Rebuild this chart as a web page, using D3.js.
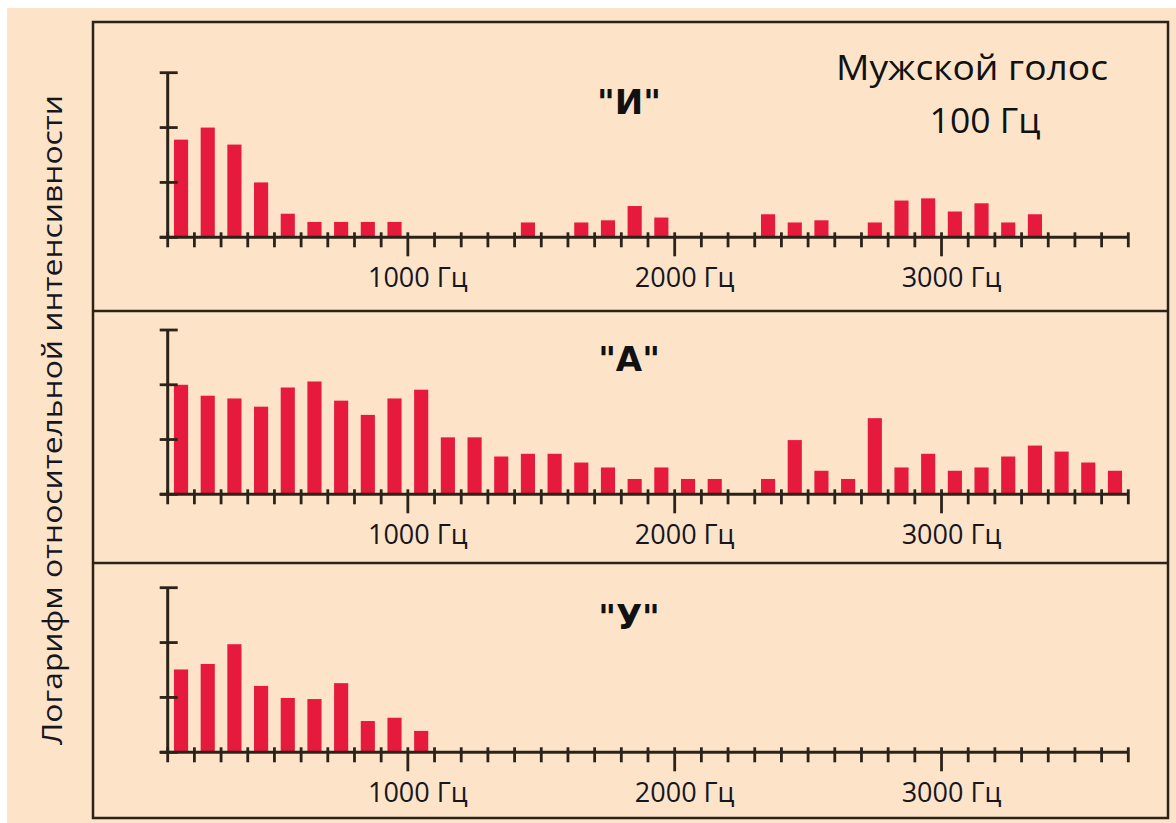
<!DOCTYPE html>
<html>
<head>
<meta charset="utf-8">
<script src="https://cdn.jsdelivr.net/npm/d3@7"></script>
<style>
  html, body { margin: 0; padding: 0; background: #ffffff; }
  svg { display: block; }
</style>
</head>
<body>
<svg id="chart" width="1176" height="823"></svg>
<script>
// ---- data ----
const harmonics = d3.range(1, 37);              // harmonic number, bars drawn between 100 Hz ticks
const freqTicks = d3.range(100, 3800, 100);     // Hz ticks 100 ... 3700
const majorTicks = [1000, 2000, 3000];
const majorLabels = ["1000 Гц", "2000 Гц", "3000 Гц"];
const panelTitles = ["\"И\"", "\"А\"", "\"У\""];
const yTickValues = [0, 1, 2, 3];

const valuesI = [1.78, 2.0, 1.69, 1.0, 0.43, 0.28, 0.28, 0.28, 0.28, 0, 0, 0, 0, 0.27, 0, 0.27, 0.31, 0.57, 0.36, 0, 0, 0, 0.42, 0.27, 0.31, 0, 0.27, 0.67, 0.71, 0.47, 0.62, 0.27, 0.42, 0, 0, 0];
const valuesA = [2.0, 1.80, 1.75, 1.60, 1.95, 2.06, 1.71, 1.45, 1.75, 1.91, 1.04, 1.04, 0.69, 0.74, 0.74, 0.58, 0.49, 0.28, 0.49, 0.28, 0.28, 0, 0.28, 0.99, 0.43, 0.28, 1.39, 0.49, 0.74, 0.43, 0.49, 0.69, 0.89, 0.78, 0.58, 0.43];
const valuesU = [1.51, 1.61, 1.97, 1.21, 0.99, 0.97, 1.26, 0.57, 0.63, 0.39, 0, 0, 0, 0, 0, 0, 0, 0, 0, 0, 0, 0, 0, 0, 0, 0, 0, 0, 0, 0, 0, 0, 0, 0, 0, 0];
const seriesValues = [valuesI, valuesA, valuesU];

const noteLine1 = "Мужской голос";
const noteLine2 = "100 Гц";
const yTitle = "Логарифм относительной интенсивности";

// ---- layout ----
const W = 1176, H = 823;
const svg = d3.select("#chart");
const bg = "#fde4c9";
const ink = "#2b2219";
const barColor = "#e61a3d";

svg.append("rect").attr("x", 0).attr("y", 0).attr("width", W).attr("height", H).attr("fill", "#ffffff");
svg.append("rect").attr("x", 7).attr("y", 8).attr("width", W - 7).attr("height", H - 8).attr("fill", bg);

const box = { left: 93, right: 1168, top: 22, bottom: 818 };
const separators = [311, 563];
const panelGeom = [
  { top: 72.7, base: 237.3 },
  { top: 330, base: 494.3 },
  { top: 587.7, base: 752.3 }
];

const x = d3.scaleLinear().domain([100, 3700]).range([167.7, 1128.3]);
const xb = d3.scaleBand().domain(harmonics).range([x(100), x(3700)]).paddingInner(0.47).paddingOuter(0.235);

panelGeom.forEach((g, pi) => {
  const y = d3.scaleLinear().domain([0, 3]).range([g.base, g.top]);
  const gp = svg.append("g");
  const vals = seriesValues[pi];

  // bars
  gp.selectAll("rect.bar").data(harmonics.filter((h, i) => vals[i] > 0))
    .join("rect")
    .attr("class", "bar")
    .attr("x", h => xb(h))
    .attr("width", xb.bandwidth())
    .attr("y", h => y(vals[h - 1]))
    .attr("height", h => y(0) - y(vals[h - 1]))
    .attr("fill", barColor);

  // x axis line
  gp.append("line")
    .attr("x1", x(100) - 8).attr("x2", x(3700))
    .attr("y1", y(0)).attr("y2", y(0))
    .attr("stroke", ink).attr("stroke-width", 3);

  // x ticks
  gp.selectAll("line.xt").data(freqTicks).join("line")
    .attr("class", "xt")
    .attr("x1", d => x(d)).attr("x2", d => x(d))
    .attr("y1", d => y(0) - 5)
    .attr("y2", d => y(0) + (majorTicks.includes(d) ? 19 : 10))
    .attr("stroke", ink).attr("stroke-width", 2.8);

  // y axis
  gp.append("line")
    .attr("x1", x(100)).attr("x2", x(100))
    .attr("y1", y(3)).attr("y2", y(0))
    .attr("stroke", ink).attr("stroke-width", 3);
  gp.selectAll("line.yt").data(yTickValues).join("line")
    .attr("class", "yt")
    .attr("x1", x(100) - 8).attr("x2", x(100) + 10)
    .attr("y1", d => y(d)).attr("y2", d => y(d))
    .attr("stroke", ink).attr("stroke-width", 2.8);

  // major labels
  gp.selectAll("text.ml").data(majorTicks).join("text")
    .attr("class", "ml")
    .attr("x", d => x(d) + 10)
    .attr("y", y(0) + 49.5)
    .attr("text-anchor", "middle")
    .attr("font-family", "'Open Sans', sans-serif")
    .attr("font-size", 27)
    .attr("fill", "#16161f")
    .text((d, i) => majorLabels[i]);

  // panel title
  gp.append("text")
    .attr("x", 629)
    .attr("y", g.top + 41)
    .attr("text-anchor", "middle")
    .attr("font-family", "'DejaVu Sans', sans-serif")
    .attr("font-weight", "bold")
    .attr("font-size", 34)
    .attr("fill", "#111")
    .text(panelTitles[pi]);
});

// note in top panel
svg.append("text").attr("x", 972).attr("y", 80)
  .attr("text-anchor", "middle")
  .attr("font-family", "'Open Sans', sans-serif").attr("font-size", 35)
  .attr("textLength", 272).attr("lengthAdjust", "spacingAndGlyphs")
  .attr("fill", "#111").text(noteLine1);
svg.append("text").attr("x", 985).attr("y", 132.7)
  .attr("text-anchor", "middle")
  .attr("font-family", "'Open Sans', sans-serif").attr("font-size", 35.5)
  .attr("fill", "#111").text(noteLine2);

// frame and separators
svg.append("rect")
  .attr("x", box.left).attr("y", box.top)
  .attr("width", box.right - box.left).attr("height", box.bottom - box.top)
  .attr("fill", "none").attr("stroke", ink).attr("stroke-width", 2.5);
svg.selectAll("line.sep").data(separators).join("line")
  .attr("class", "sep")
  .attr("x1", box.left).attr("x2", box.right)
  .attr("y1", d => d).attr("y2", d => d)
  .attr("stroke", ink).attr("stroke-width", 2.5);

// y title
svg.append("text")
  .attr("transform", "translate(62,420) rotate(-90)")
  .attr("text-anchor", "middle")
  .attr("font-family", "'Open Sans', sans-serif")
  .attr("font-size", 27)
  .attr("fill", "#16161f")
  .attr("textLength", 650)
  .attr("lengthAdjust", "spacingAndGlyphs")
  .text(yTitle);
</script>
</body>
</html>
